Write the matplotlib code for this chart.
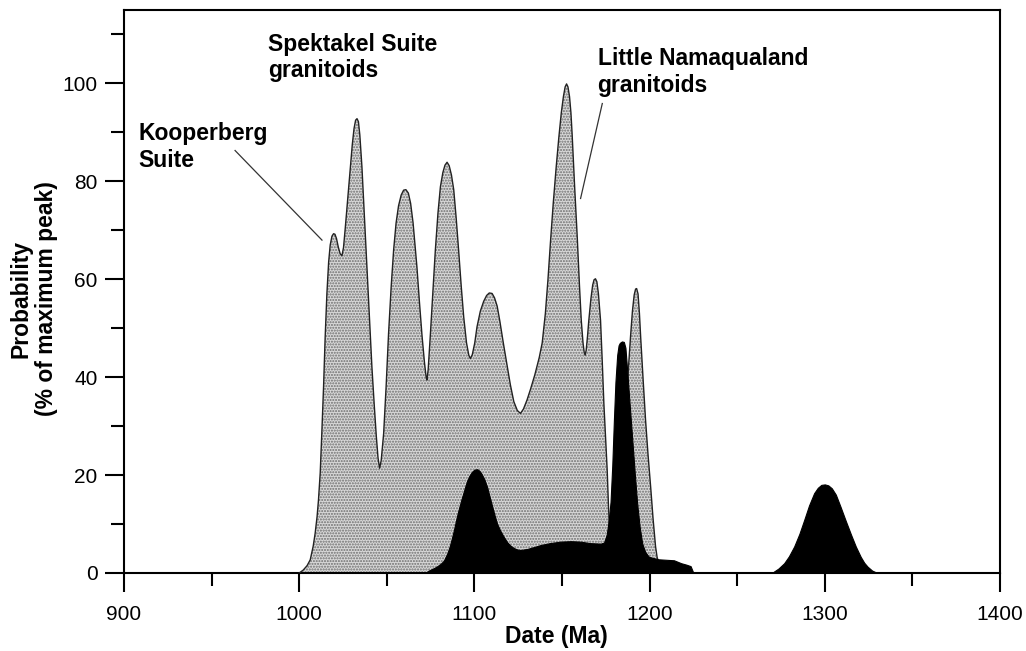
import numpy as np
import matplotlib.pyplot as plt
from matplotlib.ticker import MultipleLocator

plt.rcParams['font.family'] = ['Liberation Sans', 'DejaVu Sans']
plt.rcParams['hatch.linewidth'] = 1.0

# grey curve: all granitoid ages (Date Ma, % of max peak)
grey_date = [1000, 1002.3, 1004.5, 1006.3, 1008, 1009.1, 1010.2, 1011, 1012, 1012.9,
             1013.9, 1014.8, 1015.8, 1016.8, 1017.7, 1018.7, 1019.6, 1020.4, 1021.3, 1022.3,
             1023.4, 1024.4, 1025.3, 1026.3, 1027.7, 1029.1, 1030.3, 1031.3, 1032.2, 1033,
             1033.8, 1034.6, 1035.8, 1037.2, 1038.7, 1040.1, 1041.5, 1042.8, 1044, 1045,
             1045.9, 1046.8, 1048.2, 1049.6, 1051, 1052.5, 1053.9, 1055.3, 1056.7, 1058.2,
             1059.6, 1060.9, 1062.3, 1063.6, 1065, 1066.2, 1067.2, 1068.6, 1070.1, 1071.5,
             1072.4, 1072.9, 1073.6, 1074.9, 1076.3, 1077.7, 1079.2, 1080.6, 1082, 1083.2,
             1084.4, 1085.6, 1086.9, 1088.2, 1089.6, 1091, 1092.5, 1093.9, 1095.5, 1096.8,
             1097.7, 1098.8, 1100.2, 1101.5, 1103.4, 1105.3, 1107, 1108.5, 1110.1, 1111.5,
             1113, 1114.5, 1116.5, 1118.7, 1120.5, 1122.5, 1124.5, 1126.3, 1128, 1130,
             1132, 1134.5, 1137, 1138.7, 1140.5, 1142, 1143.4, 1145, 1146.7, 1148.2,
             1149.6, 1150.8, 1151.8, 1152.6, 1153.4, 1154.3, 1155.1, 1155.8, 1157.2, 1158.7,
             1160, 1161, 1162, 1162.7, 1163.2, 1163.8, 1164.6, 1165.3, 1166.5, 1167.5,
             1168.3, 1169.1, 1169.9, 1170.8, 1172, 1173, 1173.9, 1174.9, 1175.8, 1176.5,
             1177.1, 1178, 1181, 1184, 1187.2, 1188.2, 1189.1, 1190.2, 1191.2, 1192,
             1192.6, 1193.4, 1194.2, 1194.9, 1196.3, 1197.7, 1199.1, 1200.6, 1202, 1203.4,
             1204.3, 1205.3, 1207]
grey_prob = [0, 0.6, 1.5, 2.7, 5.5, 8.1, 11.5, 14.9, 20.5, 28.5,
             38, 48, 57, 63.5, 67, 68.8, 69.3, 69.2, 68.3, 66.6,
             65.2, 64.8, 66.5, 70.5, 76.5, 82.5, 87.5, 90.8, 92.5, 92.8,
             92.2, 89.5, 83, 73, 62.5, 52, 42.1, 34.5, 28, 23.5,
             21.4, 23, 28.5, 38, 48.9, 58.5, 66, 71.5, 75, 77.2,
             78.2, 78.3, 77.6, 75.5, 71.5, 66.5, 62.5, 55.5, 48.5, 43,
             40.2, 39.4, 41.5, 48.9, 57.5, 65.9, 73.5, 78.9, 81.8, 83.3,
             83.9, 83.2, 81.3, 78.3, 72.5, 65.9, 58.5, 52.3, 47, 44.5,
             43.8, 44.6, 47, 50.3, 53.5, 55.5, 56.7, 57.2, 57.1, 56.2,
             54.5, 51.5, 47, 42.3, 38.5, 35, 33.2, 32.6, 33.5, 35.3,
             37.5, 40.5, 44, 47, 53, 60, 67.5, 75.5, 83, 89,
             94, 97.3, 99.3, 99.9, 99.3, 97.3, 94, 89.5, 79, 68.6,
             58.5, 51.6, 47, 45, 44.5, 45.5, 48.5, 51.6, 56, 58.8,
             59.9, 60.1, 59.5, 57, 51.6, 43, 34.6, 27.5, 21, 14,
             8.8, 7, 12, 24, 38, 43.5, 48.2, 53.5, 56.8, 58,
             58.1, 57, 53, 48.2, 39.5, 31.2, 24.2, 17.6, 11, 5.4,
             3.2, 2, 0]

# black curve
black_date = [1072, 1074, 1078, 1080.5, 1082.5, 1084.3, 1086, 1088, 1090, 1091.5,
              1093, 1094.5, 1095.8, 1097.2, 1098.5, 1100, 1101.5, 1102.8, 1104, 1105.6,
              1107.2, 1108.6, 1110, 1111.5, 1113, 1114.8, 1116.7, 1118.7, 1120.5, 1122.5,
              1124.5, 1126.3, 1130, 1134, 1137.7, 1143, 1149.1, 1155, 1160.6, 1166,
              1172, 1174, 1175.5, 1176.6, 1177.7, 1178.7, 1179.6, 1180.5, 1181.5, 1182.3,
              1183, 1184.2, 1185.3, 1186.2, 1187.2, 1188.6, 1190, 1191.5, 1192.9, 1194.3,
              1195.8, 1197.5, 1199.6, 1205, 1213.9, 1218, 1221, 1223.4, 1225,
              1270, 1271, 1273.5, 1276.8, 1279.5, 1282.5, 1285.5, 1288.2, 1291, 1293.9,
              1296, 1298, 1300, 1302, 1304, 1306.3, 1309, 1312, 1315, 1317.7,
              1320.5, 1322.5, 1324.4, 1327, 1330]
black_prob = [0, 0.5, 1.2, 1.8, 2.5, 3.8, 5.5, 8.3, 11.5, 13.6,
              15.5, 17.3, 18.8, 19.9, 20.6, 21.1, 21.2, 20.9, 20.3, 19.2,
              17.6, 15.7, 13.8, 11.8, 10, 8.6, 7.4, 6.3, 5.6, 5.1,
              4.8, 4.7, 4.9, 5.3, 5.7, 6.1, 6.4, 6.5, 6.4, 6.1,
              6, 6.2, 7.8, 10.5, 14.5, 22, 31, 39, 44.5, 46.5,
              47, 47.3, 47.2, 46, 41.4, 34.5, 27.8, 20.5, 14.2, 9.5,
              6, 4.3, 3.3, 2.8, 2.6, 2, 1.7, 1.4, 0,
              0, 0.3, 0.9, 2, 3.4, 5.4, 8, 10.8, 13.8, 16.3,
              17.4, 18, 18.1, 17.9, 17.3, 16, 13.5, 10.6, 7.8, 5.4,
              3.3, 2.1, 1.3, 0.5, 0]

fig = plt.figure(figsize=(10.26, 6.51), dpi=100)
ax = fig.add_axes([124/1026, 78/651, 876/1026, 563/651])

ax.fill_between(grey_date, grey_prob, facecolor='#d8d8d8', edgecolor='#6e6e6e',
                hatch='......', linewidth=0, zorder=2)
ax.plot(grey_date, grey_prob, color='#222222', lw=1.0, zorder=3)
ax.fill_between(black_date, black_prob, facecolor='black', edgecolor='black',
                linewidth=0.8, zorder=4)

# labels
ax.text(908, 87.0, "Kooperberg\nSuite", fontsize=16.5, fontweight='bold',
        ha='left', va='center', linespacing=1.2)
ax.text(982.3, 105.3, "Spektakel Suite\ngranitoids", fontsize=16.5, fontweight='bold',
        ha='left', va='center', linespacing=1.2)
ax.text(1170.3, 102.3, "Little Namaqualand\ngranitoids", fontsize=16.5, fontweight='bold',
        ha='left', va='center', linespacing=1.2)
ax.plot([963.4, 1013], [86.3, 68], color='#333333', lw=0.9, zorder=5)
ax.plot([1173, 1160.6], [95.9, 76.5], color='#333333', lw=0.9, zorder=5)

ax.set_xlim(900, 1400)
ax.set_ylim(0, 115)
ax.xaxis.set_major_locator(MultipleLocator(100))
ax.xaxis.set_minor_locator(MultipleLocator(50))
ax.yaxis.set_major_locator(MultipleLocator(20))
ax.yaxis.set_minor_locator(MultipleLocator(10))
ax.set_yticks([0, 20, 40, 60, 80, 100])
ax.tick_params(which='major', length=14, width=1.5, labelsize=15, direction='out')
ax.tick_params(which='minor', length=9.5, width=1.5, direction='out')
ax.tick_params(axis='x', which='major', pad=9)
ax.tick_params(axis='y', which='major', pad=5)
for s in ax.spines.values():
    s.set_linewidth(1.5)

fig.text(556/1026, 1 - 637/651, "Date (Ma)", fontsize=16.5, fontweight='bold',
         ha='center', va='center')
fig.text(34/1026, 1 - 299/651, "Probability\n(% of maximum peak)", fontsize=16.5,
         fontweight='bold', ha='center', va='center', rotation=90, linespacing=1.15)

fig.savefig("out.png", dpi=100)
